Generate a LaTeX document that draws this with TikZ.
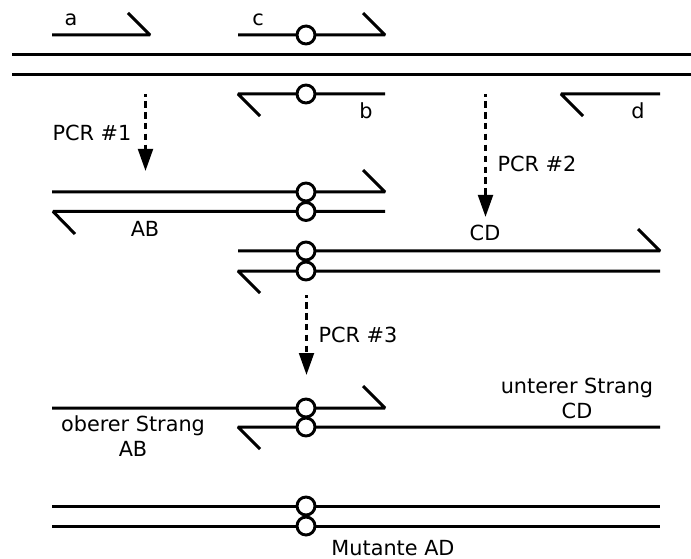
\documentclass[tikz,border=0pt]{standalone}
\usepackage{fontspec}
\setmainfont{DejaVu Sans}
\usetikzlibrary{arrows.meta}
\tikzset{
  strand/.style={line width=2.25pt,line cap=butt,line join=bevel},
  mut/.style={circle,draw,line width=2.2pt,fill=white,minimum size=13.5pt,inner sep=0pt,outer sep=0pt},
  pcr/.style={line width=2.2pt,dash pattern=on 5pt off 3.2pt,dash phase=3pt,-{Triangle[length=16.5pt,width=11pt]},shorten >=0pt},
  lbl/.style={font=\fontsize{15.6}{18}\selectfont,inner sep=0pt,anchor=base,text=black},
}
\begin{document}
\begin{tikzpicture}[x=0.75pt,y=-0.75pt]
\useasboundingbox (0,0) rectangle (691,559);
% template
\coordinate (t1l) at (12,54.5); \coordinate (t1r) at (691,54.5);
\coordinate (t2l) at (12,74.5); \coordinate (t2r) at (691,74.5);
\draw[strand] (t1l) -- (t1r);
\draw[strand] (t2l) -- (t2r);
% primers
\coordinate (a1) at (52,35); \coordinate (a2) at (150,35); \coordinate (a3) at (128,13);
\draw[strand] (a1) -- (a2) -- (a3);
\coordinate (c1) at (238,35); \coordinate (c2) at (385,35); \coordinate (c3) at (363,13);
\draw[strand] (c1) -- (c2) -- (c3);
\node[mut] (mc) at (306,35) {};
\coordinate (b1) at (385,94); \coordinate (b2) at (238,94); \coordinate (b3) at (260,116);
\draw[strand] (b1) -- (b2) -- (b3);
\node[mut] (mb) at (306,94) {};
\coordinate (d1) at (660,94); \coordinate (d2) at (561,94); \coordinate (d3) at (583,116);
\draw[strand] (d1) -- (d2) -- (d3);
% AB
\coordinate (ab1) at (52,192); \coordinate (ab2) at (385,192); \coordinate (ab3) at (363,170);
\draw[strand] (ab1) -- (ab2) -- (ab3);
\coordinate (ab4) at (385,211.5); \coordinate (ab5) at (53,211.5); \coordinate (ab6) at (75,234);
\draw[strand] (ab4) -- (ab5) -- (ab6);
\node[mut] (mab1) at (306,192) {};
\node[mut] (mab2) at (306,211.5) {};
% CD
\coordinate (cd1) at (238,251); \coordinate (cd2) at (660,251); \coordinate (cd3) at (638,229);
\draw[strand] (cd1) -- (cd2) -- (cd3);
\coordinate (cd4) at (660,271); \coordinate (cd5) at (238,271); \coordinate (cd6) at (260,293);
\draw[strand] (cd4) -- (cd5) -- (cd6);
\node[mut] (mcd1) at (306,251) {};
\node[mut] (mcd2) at (306,271) {};
% upper AB / lower CD
\coordinate (u1) at (52,408); \coordinate (u2) at (385,408); \coordinate (u3) at (363,386);
\draw[strand] (u1) -- (u2) -- (u3);
\coordinate (l1) at (660,427); \coordinate (l2) at (238,427); \coordinate (l3) at (260,449);
\draw[strand] (l1) -- (l2) -- (l3);
\node[mut] (mu) at (306,408) {};
\node[mut] (ml) at (306,427) {};
% mutant
\coordinate (m1l) at (52,506); \coordinate (m1r) at (660,506);
\coordinate (m2l) at (52,526); \coordinate (m2r) at (660,526);
\draw[strand] (m1l) -- (m1r);
\draw[strand] (m2l) -- (m2r);
\node[mut] (mm1) at (306,506) {};
\node[mut] (mm2) at (306,526) {};
% arrows
\coordinate (p1s) at (145.5,94); \coordinate (p1e) at (145.5,171);
\draw[pcr] (p1s) -- (p1e);
\coordinate (p2s) at (485.5,94); \coordinate (p2e) at (485.5,217);
\draw[pcr] (p2s) -- (p2e);
\coordinate (p3s) at (306.5,295); \coordinate (p3e) at (306.5,375);
\draw[pcr] (p3s) -- (p3e);
% labels
\node[lbl] (la) at (71,26) {a};
\node[lbl] (lc) at (258,26) {c};
\node[lbl] (lb) at (366,119) {b};
\node[lbl] (ld) at (638,119) {d};
\node[lbl] (lp1) at (92,141) {PCR \#1};
\node[lbl] (lab) at (145,237) {AB};
\node[lbl] (lp2) at (537,172) {PCR \#2};
\node[lbl] (lcd) at (485,241) {CD};
\node[lbl] (lp3) at (358,342) {PCR \#3};
\node[lbl] (lus) at (577,393) {unterer Strang};
\node[lbl] (lucd) at (577,418) {CD};
\node[lbl] (los) at (133,431) {oberer Strang};
\node[lbl] (loab) at (133,456) {AB};
\node[lbl] (lm) at (393,555) {Mutante AD};
\end{tikzpicture}
\end{document}
